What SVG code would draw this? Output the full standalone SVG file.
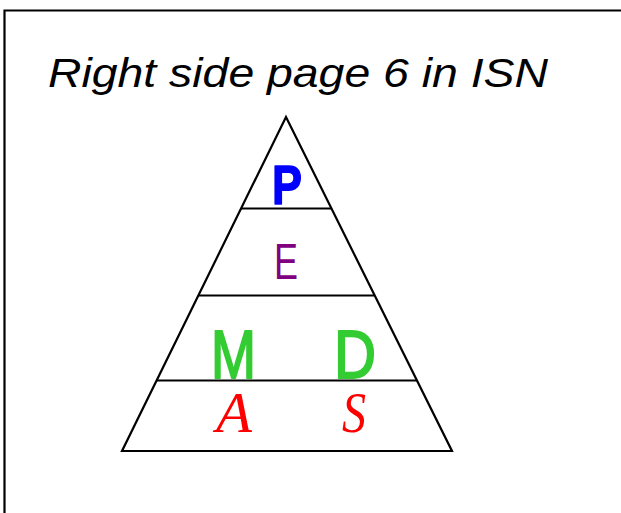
<svg xmlns="http://www.w3.org/2000/svg" width="621" height="513" viewBox="0 0 621 513">
<style>
.ln{stroke:#000;stroke-width:2.2;fill:none;stroke-linecap:butt}
.title{font-family:"Liberation Sans",sans-serif;font-style:italic;font-size:40px;fill:#000}
.lbl{text-anchor:middle}
</style>
<rect width="621" height="513" fill="#fff"/>
<path class="ln" d="M4.5,520 V10.5 H630" stroke-width="2.6"/>
<text class="title" x="48" y="87" textLength="500" lengthAdjust="spacingAndGlyphs">Right side page 6 in ISN</text>
<g id="pyramid">
<polygon class="ln" points="286,117 452,451 122,451"/>
</g>
<g id="connectors">
<line class="ln" x1="241" y1="208.5" x2="331" y2="208.5"/>
<line class="ln" x1="199" y1="295.5" x2="374" y2="295.5"/>
<line class="ln" x1="156.5" y1="380.5" x2="417" y2="380.5"/>
</g>
<g id="node-P">
<text class="lbl" x="287" y="204" font-family="Liberation Sans,sans-serif" font-weight="bold" font-size="56" fill="#0000ff" stroke="#0000ff" stroke-width="1.5" stroke-linejoin="round" textLength="30" lengthAdjust="spacingAndGlyphs">P</text>
</g>
<g id="node-E">
<text class="lbl" x="286" y="279" font-family="Liberation Sans,sans-serif" font-size="50" fill="#800080" textLength="24" lengthAdjust="spacingAndGlyphs">E</text>
</g>
<g id="node-M">
<text class="lbl" x="233.5" y="378" font-family="Liberation Sans,sans-serif" font-size="68" fill="#33cc33" stroke="#33cc33" stroke-width="2" stroke-linejoin="round" textLength="45" lengthAdjust="spacingAndGlyphs">M</text>
</g>
<g id="node-D">
<text class="lbl" x="355" y="378" font-family="Liberation Sans,sans-serif" font-size="68" fill="#33cc33" stroke="#33cc33" stroke-width="2" stroke-linejoin="round" textLength="42" lengthAdjust="spacingAndGlyphs">D</text>
</g>
<g id="node-A">
<text class="lbl" x="234" y="432" font-family="Liberation Serif,serif" font-style="italic" font-size="56" fill="#ff0000" textLength="36" lengthAdjust="spacingAndGlyphs">A</text>
</g>
<g id="node-S">
<text class="lbl" x="354" y="432" font-family="Liberation Serif,serif" font-style="italic" font-size="56" fill="#ff0000" textLength="24" lengthAdjust="spacingAndGlyphs">S</text>
</g>
</svg>
